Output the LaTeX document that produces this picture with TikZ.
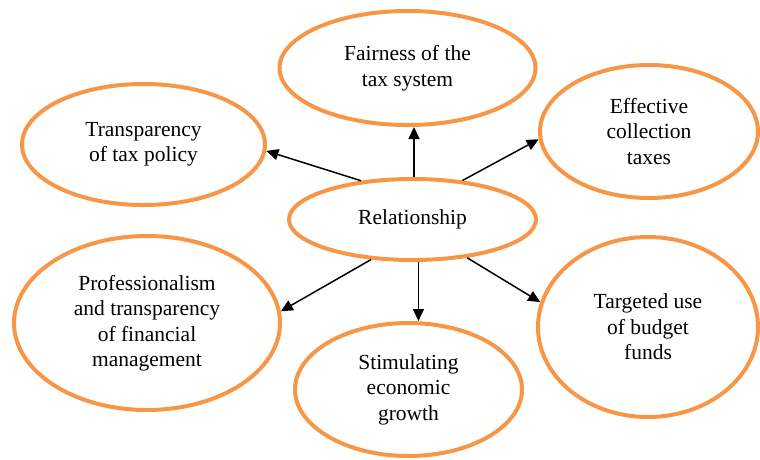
\documentclass[tikz,border=0pt]{standalone}
\usepackage{fontspec}
\setmainfont{Liberation Serif}
\usetikzlibrary{shapes.geometric,arrows.meta}
\definecolor{ringorange}{HTML}{F79646}
\begin{document}
\begin{tikzpicture}[x=1pt,y=-1pt,
  bubble/.style={ellipse,draw=ringorange,line width=4pt,inner sep=0pt,
    align=center,font=\fontsize{21.5}{25.5}\selectfont},
  link/.style={line width=1.5pt,-{Triangle[length=12pt,width=11pt]}}]
\useasboundingbox (0,0) rectangle (760,459);
% central node
\node[bubble,minimum width=247pt,minimum height=81pt] (rel) at (412.5,219.5) {Relationship};
% surrounding factors
\node[bubble,minimum width=256pt,minimum height=114pt] (fair) at (407.5,68) {Fairness of the\\tax system};
\node[bubble,minimum width=243pt,minimum height=121pt] (trans) at (143.5,144.5) {Transparency\\of tax policy};
\node[bubble,minimum width=218pt,minimum height=133pt] (eff) at (649,131.5) {Effective\\collection\\taxes};
\node[bubble,minimum width=266pt,minimum height=174pt] (prof) at (147,323) {Professionalism\\and transparency\\of financial\\management};
\node[bubble,minimum width=227pt,minimum height=133pt] (stim) at (408.5,389.5) {Stimulating\\economic\\growth};
\node[bubble,minimum width=220pt,minimum height=180pt] (targ) at (648,327) {Targeted use\\of budget\\funds};
% connectors
\draw[link] (rel.143) -- (trans.-3);
\draw[link] (rel.88) -- (rel.88 |- fair.south);
\draw[link] (rel.38) -- (eff.184);
\draw[link] (rel.224) -- (prof.5);
\draw[link] (rel.278) -- (rel.278 |- stim.north);
\draw[link] (rel.-35.5) -- (targ.167);
\end{tikzpicture}
\end{document}
